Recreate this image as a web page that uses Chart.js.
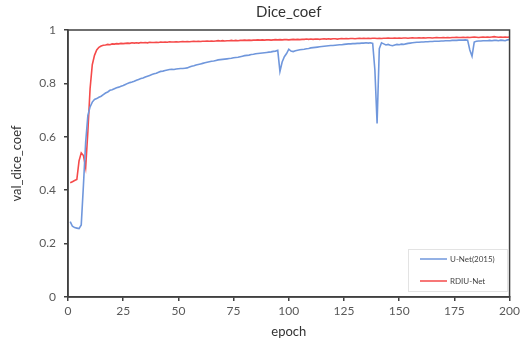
<!DOCTYPE html>
<html>
<head>
<meta charset="utf-8">
<script src="https://cdn.jsdelivr.net/npm/chart.js@4/dist/chart.umd.min.js"></script>
<style>
  html, body { margin: 0; padding: 0; background: #fff; }
  #wrap { width: 523px; height: 340px; position: relative; }
</style>
</head>
<body>
<div id="wrap"><canvas id="diceChart"></canvas></div>
<script>
// Dice coefficient per epoch
const chartTitle = 'Dice_coef';
const xTitle = 'epoch';
const yTitle = 'val_dice_coef';
const xTicks = [0, 25, 50, 75, 100, 125, 150, 175, 200];
const yTicks = [0, 0.2, 0.4, 0.6, 0.8, 1];

const unetLabel = 'U-Net(2015)';
const unetDice = [
  0.282, 0.265, 0.260, 0.258, 0.256, 0.270, 0.420, 0.580, 0.680, 0.712,
  0.730, 0.740, 0.743, 0.748, 0.752, 0.758, 0.764, 0.768, 0.774, 0.776,
  0.780, 0.784, 0.786, 0.789, 0.792, 0.796, 0.800, 0.803, 0.805, 0.808,
  0.812, 0.815, 0.818, 0.820, 0.824, 0.827, 0.830, 0.833, 0.836, 0.838,
  0.842, 0.845, 0.846, 0.848, 0.850, 0.852, 0.853, 0.852, 0.854, 0.855,
  0.856, 0.856, 0.857, 0.858, 0.861, 0.864, 0.866, 0.869, 0.871, 0.873,
  0.875, 0.877, 0.879, 0.881, 0.883, 0.884, 0.886, 0.888, 0.889, 0.890,
  0.891, 0.892, 0.893, 0.894, 0.896, 0.897, 0.898, 0.900, 0.902, 0.904,
  0.905, 0.906, 0.908, 0.909, 0.911, 0.912, 0.913, 0.914, 0.915, 0.916,
  0.917, 0.918, 0.920, 0.921, 0.924, 0.845, 0.880, 0.900, 0.912, 0.928,
  0.921, 0.919, 0.922, 0.924, 0.926, 0.927, 0.928, 0.930, 0.931, 0.933,
  0.934, 0.935, 0.936, 0.937, 0.938, 0.939, 0.940, 0.941, 0.942, 0.942,
  0.943, 0.944, 0.945, 0.945, 0.946, 0.947, 0.948, 0.948, 0.949, 0.949,
  0.950, 0.950, 0.951, 0.951, 0.952, 0.951, 0.952, 0.950, 0.850, 0.650,
  0.930, 0.952, 0.948, 0.944, 0.946, 0.943, 0.941, 0.944, 0.946, 0.945,
  0.947, 0.946, 0.948, 0.950, 0.951, 0.952, 0.953, 0.954, 0.954, 0.955,
  0.955, 0.956, 0.956, 0.957, 0.957, 0.958, 0.958, 0.958, 0.959, 0.959,
  0.960, 0.960, 0.960, 0.961, 0.961, 0.961, 0.962, 0.962, 0.962, 0.963,
  0.962, 0.925, 0.902, 0.955, 0.958, 0.959, 0.959, 0.960, 0.960, 0.960,
  0.961, 0.960, 0.961, 0.961, 0.960, 0.962, 0.961, 0.960, 0.963, 0.964
];

const rdiuLabel = 'RDIU-Net';
const rdiuDice = [
  0.428, 0.432, 0.436, 0.440, 0.510, 0.540, 0.530, 0.485, 0.620, 0.780,
  0.870, 0.905, 0.925, 0.935, 0.940, 0.943, 0.944, 0.946, 0.945, 0.948,
  0.947, 0.949, 0.948, 0.950, 0.949, 0.950, 0.951, 0.950, 0.952, 0.951,
  0.952, 0.951, 0.953, 0.952, 0.953, 0.952, 0.954, 0.953, 0.953, 0.954,
  0.953, 0.955, 0.954, 0.955, 0.954, 0.956, 0.955, 0.955, 0.956, 0.955,
  0.956, 0.957, 0.956, 0.957, 0.956, 0.957, 0.958, 0.957, 0.958, 0.957,
  0.958, 0.958, 0.959, 0.958, 0.959, 0.958, 0.959, 0.960, 0.959, 0.960,
  0.959, 0.960, 0.960, 0.961, 0.960, 0.961, 0.960, 0.961, 0.961, 0.962,
  0.961, 0.962, 0.961, 0.962, 0.962, 0.963, 0.962, 0.963, 0.962, 0.963,
  0.963, 0.962, 0.963, 0.964, 0.963, 0.964, 0.963, 0.964, 0.964, 0.963,
  0.964, 0.965, 0.964, 0.965, 0.964, 0.965, 0.965, 0.966, 0.965, 0.966,
  0.965, 0.966, 0.966, 0.965, 0.966, 0.967, 0.966, 0.967, 0.966, 0.967,
  0.967, 0.966, 0.967, 0.968, 0.967, 0.968, 0.967, 0.968, 0.968, 0.967,
  0.968, 0.969, 0.968, 0.969, 0.968, 0.969, 0.968, 0.969, 0.969, 0.968,
  0.969, 0.968, 0.969, 0.969, 0.970, 0.969, 0.969, 0.970, 0.969, 0.970,
  0.969, 0.970, 0.970, 0.969, 0.970, 0.971, 0.970, 0.970, 0.971, 0.970,
  0.971, 0.970, 0.971, 0.971, 0.970, 0.971, 0.972, 0.971, 0.971, 0.972,
  0.971, 0.972, 0.971, 0.972, 0.972, 0.973, 0.972, 0.972, 0.973, 0.972,
  0.973, 0.972, 0.973, 0.974, 0.973, 0.972, 0.973, 0.974, 0.973, 0.974,
  0.973, 0.974, 0.975, 0.974, 0.973, 0.974, 0.973, 0.974, 0.973, 0.974
];

const FONT = 'Lato, "Open Sans", sans-serif';
const AXIS_COLOR = '#404040';
const TEXT_COLOR = '#595959';

// epoch index starts at 1
const toPoints = arr => arr.map((v, i) => ({ x: i + 1, y: v }));

// frame, title and inner legend drawn on top of the chart
const framePlugin = {
  id: 'frame',
  afterDraw(chart) {
    const { ctx, chartArea: a } = chart;
    ctx.save();
    ctx.strokeStyle = AXIS_COLOR;
    ctx.lineWidth = 1.5;
    ctx.strokeRect(a.left, a.top, a.right - a.left, a.bottom - a.top);

    ctx.fillStyle = '#333';
    ctx.font = '15px ' + FONT;
    ctx.textAlign = 'center';
    ctx.textBaseline = 'middle';
    ctx.fillText(chartTitle, (a.left + a.right) / 2, 12);

    // legend box
    const bx = 408, by = 249, bw = 99, bh = 42;
    ctx.fillStyle = '#fff';
    ctx.fillRect(bx, by, bw, bh);
    ctx.strokeStyle = '#e3e3e3';
    ctx.lineWidth = 1;
    ctx.strokeRect(bx + 0.5, by + 0.5, bw, bh);
    ctx.font = '8px ' + FONT;
    ctx.textAlign = 'left';
    chart.data.datasets.forEach((ds, i) => {
      const y = by + 10 + i * 22;
      ctx.strokeStyle = ds.borderColor;
      ctx.lineWidth = 1.5;
      ctx.beginPath();
      ctx.moveTo(bx + 12, y);
      ctx.lineTo(bx + 39, y);
      ctx.stroke();
      ctx.fillStyle = '#444';
      ctx.fillText(ds.label, bx + 42, y + 0.5);
    });
    ctx.restore();
  }
};

const ctx = document.getElementById('diceChart').getContext('2d');
new Chart(ctx, {
  type: 'line',
  data: {
    datasets: [
      {
        label: unetLabel,
        data: toPoints(unetDice),
        borderColor: '#7097dc',
        borderWidth: 1.6,
        pointRadius: 0,
        tension: 0,
        fill: false
      },
      {
        label: rdiuLabel,
        data: toPoints(rdiuDice),
        borderColor: '#f54a4a',
        borderWidth: 1.6,
        pointRadius: 0,
        tension: 0,
        fill: false
      }
    ]
  },
  options: {
    responsive: true,
    maintainAspectRatio: false,
    animation: false,
    layout: { padding: { top: 30, right: 11, left: 0, bottom: 0 } },
    plugins: {
      legend: { display: false },
      title: { display: false },
      tooltip: { enabled: false }
    },
    scales: {
      x: {
        type: 'linear',
        min: 0,
        max: 200,
        afterBuildTicks: s => { s.ticks = xTicks.map(v => ({ value: v })); },
        afterFit: s => { s.height = 43; },
        grid: { drawOnChartArea: false, drawTicks: true, tickLength: 4, color: AXIS_COLOR, lineWidth: 1.5 },
        border: { display: true, color: AXIS_COLOR, width: 1.5 },
        ticks: { color: TEXT_COLOR, font: { family: FONT, size: 12 }, padding: 3, maxRotation: 0 },
        title: { display: true, text: xTitle, color: '#333', font: { family: FONT, size: 13 }, padding: { top: 0, bottom: 0 } }
      },
      y: {
        min: 0,
        max: 1,
        afterBuildTicks: s => { s.ticks = yTicks.map(v => ({ value: v })); },
        afterFit: s => { s.width = 68; },
        grid: { drawOnChartArea: false, drawTicks: true, tickLength: 4, color: AXIS_COLOR, lineWidth: 1.5 },
        border: { display: true, color: AXIS_COLOR, width: 1.5 },
        ticks: { color: TEXT_COLOR, font: { family: FONT, size: 12 }, padding: 8, callback: v => String(v) },
        title: { display: true, text: yTitle, color: '#333', font: { family: FONT, size: 13 }, padding: { top: 9, bottom: 0 } }
      }
    }
  },
  plugins: [framePlugin]
});
</script>
</body>
</html>
